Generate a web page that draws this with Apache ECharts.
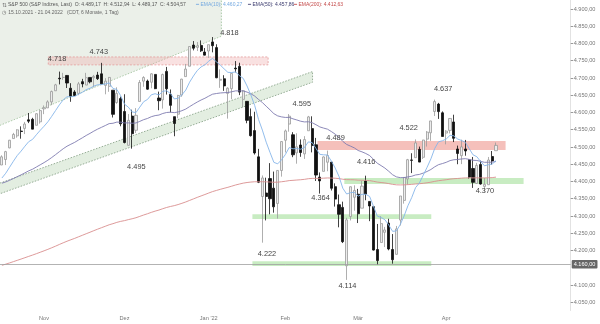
<!DOCTYPE html>
<html><head><meta charset="utf-8">
<script src="https://cdn.jsdelivr.net/npm/echarts@6/dist/echarts.min.js"></script>
<style>html,body{margin:0;padding:0;background:#fff;overflow:hidden}#c{width:600px;height:324px}</style>
</head><body><div id="c"></div>
<script>
const dates = ['2021-10-15','2021-10-18','2021-10-19','2021-10-20','2021-10-21','2021-10-22','2021-10-25','2021-10-26','2021-10-27','2021-10-28','2021-10-29',
'2021-11-01','2021-11-02','2021-11-03','2021-11-04','2021-11-05','2021-11-08','2021-11-09','2021-11-10','2021-11-11','2021-11-12','2021-11-15','2021-11-16','2021-11-17','2021-11-18','2021-11-19','2021-11-22','2021-11-23','2021-11-24','2021-11-26','2021-11-29','2021-11-30',
'2021-12-01','2021-12-02','2021-12-03','2021-12-06','2021-12-07','2021-12-08','2021-12-09','2021-12-10','2021-12-13','2021-12-14','2021-12-15','2021-12-16','2021-12-17','2021-12-20','2021-12-21','2021-12-22','2021-12-23','2021-12-27','2021-12-28','2021-12-29','2021-12-30','2021-12-31',
'2022-01-03','2022-01-04','2022-01-05','2022-01-06','2022-01-07','2022-01-10','2022-01-11','2022-01-12','2022-01-13','2022-01-14','2022-01-18','2022-01-19','2022-01-20','2022-01-21','2022-01-24','2022-01-25','2022-01-26','2022-01-27','2022-01-28','2022-01-31',
'2022-02-01','2022-02-02','2022-02-03','2022-02-04','2022-02-07','2022-02-08','2022-02-09','2022-02-10','2022-02-11','2022-02-14','2022-02-15','2022-02-16','2022-02-17','2022-02-18','2022-02-22','2022-02-23','2022-02-24','2022-02-25','2022-02-28',
'2022-03-01','2022-03-02','2022-03-03','2022-03-04','2022-03-07','2022-03-08','2022-03-09','2022-03-10','2022-03-11','2022-03-14','2022-03-15','2022-03-16','2022-03-17','2022-03-18','2022-03-21','2022-03-22','2022-03-23','2022-03-24','2022-03-25','2022-03-28','2022-03-29','2022-03-30','2022-03-31',
'2022-04-01','2022-04-04','2022-04-05','2022-04-06','2022-04-07','2022-04-08','2022-04-11','2022-04-12','2022-04-13','2022-04-14','2022-04-18','2022-04-19','2022-04-20','2022-04-21'];

const opens = [4447.7,4463.7,4497.3,4524.4,4532.2,4546.1,4553.7,4578.7,4580.2,4562.8,4572.9,
4610.6,4613.3,4630.7,4662.9,4699.3,4701.5,4707.3,4670.3,4659.4,4655.2,4689.3,4679.4,4701.5,4700.7,4708.4,4712.0,4678.5,4675.8,4664.6,4628.8,4640.2,
4602.8,4504.7,4589.5,4548.4,4631.9,4690.9,4691.0,4687.6,4710.3,4642.0,4636.5,4719.1,4652.5,4587.9,4595.0,4650.4,4704.0,4734.0,4795.5,4788.6,4794.2,4775.2,
4778.1,4804.5,4788.0,4693.4,4697.7,4655.3,4669.1,4728.6,4733.6,4638.0,4632.2,4588.0,4547.4,4471.4,4356.3,4366.6,4408.4,4380.6,4336.2,4431.8,
4519.6,4566.4,4535.4,4482.8,4505.8,4480.0,4547.0,4553.2,4506.3,4412.6,4429.3,4455.8,4456.1,4385.0,4332.7,4324.9,4155.8,4298.4,4354.2,
4363.1,4322.6,4401.3,4342.1,4327.0,4202.7,4223.1,4252.6,4279.5,4202.8,4188.8,4288.1,4345.1,4407.3,4462.4,4469.1,4493.1,4470.0,4522.7,4541.1,4602.9,4624.2,4599.0,
4540.3,4548.0,4572.5,4494.2,4474.7,4494.2,4462.6,4437.6,4394.3,4449.1,4385.6,4390.6,4472.3,4489.2];

const highs = [4475.8,4488.8,4520.4,4540.9,4551.4,4559.7,4572.6,4598.5,4584.6,4597.6,4608.1,
4620.3,4635.2,4663.5,4683.0,4718.5,4714.9,4708.5,4684.9,4664.6,4688.5,4697.4,4714.9,4701.5,4708.8,4717.8,4743.8,4699.4,4702.9,4664.6,4672.9,4646.0,
4652.9,4595.5,4608.0,4612.6,4694.0,4705.1,4695.3,4713.6,4710.3,4660.5,4712.6,4732.0,4666.7,4587.9,4651.1,4697.7,4740.7,4791.5,4807.0,4804.1,4808.9,4786.8,
4796.6,4818.6,4797.7,4725.0,4708.0,4673.0,4714.1,4749.0,4744.1,4665.1,4632.2,4611.6,4602.1,4494.5,4417.4,4411.0,4453.2,4428.7,4432.7,4516.9,
4550.5,4595.3,4542.9,4539.7,4521.9,4531.3,4590.0,4588.9,4526.3,4426.2,4472.8,4489.6,4456.1,4394.6,4362.1,4341.5,4294.7,4385.3,4388.8,
4378.5,4401.5,4416.8,4342.1,4327.0,4276.9,4299.4,4268.3,4291.9,4247.6,4271.1,4357.9,4412.7,4465.4,4481.8,4522.0,4501.1,4520.6,4546.0,4575.7,4637.3,4627.8,4603.1,
4548.7,4583.5,4593.5,4503.9,4521.2,4520.4,4464.3,4471.0,4453.9,4460.5,4410.3,4471.0,4488.3,4512.9];

const lows = [4447.7,4447.5,4496.4,4524.4,4526.9,4524.0,4537.4,4569.2,4551.7,4562.8,4567.6,
4595.1,4613.3,4621.2,4662.6,4681.3,4694.4,4670.9,4630.9,4648.3,4650.0,4672.9,4679.4,4684.4,4672.8,4694.2,4682.2,4652.7,4659.9,4585.4,4625.3,4560.0,
4510.3,4504.7,4495.1,4540.5,4631.9,4674.5,4665.9,4670.2,4667.6,4606.5,4611.2,4651.9,4600.2,4531.1,4583.2,4645.5,4704.0,4734.0,4780.0,4778.1,4775.3,4765.8,
4758.2,4774.3,4699.4,4671.3,4662.7,4582.2,4638.3,4716.1,4650.3,4614.8,4568.7,4530.2,4478.0,4395.3,4222.6,4287.1,4304.8,4309.5,4292.5,4414.0,
4484.0,4544.3,4470.4,4451.5,4471.5,4465.4,4547.0,4484.3,4401.4,4364.8,4429.3,4429.7,4373.8,4327.2,4267.1,4221.5,4114.7,4287.0,4315.1,
4279.5,4322.6,4345.6,4285.0,4199.9,4157.9,4223.1,4209.8,4200.5,4161.7,4187.9,4272.3,4335.7,4390.6,4424.3,4469.1,4455.8,4465.2,4501.1,4517.7,4589.7,4581.3,4530.4,
4507.6,4539.2,4514.2,4450.0,4450.3,4474.6,4408.4,4381.3,4392.7,4390.8,4370.3,4390.6,4448.8,4489.2];

const closes = [4471.4,4486.5,4519.6,4536.2,4549.8,4544.9,4566.5,4574.8,4551.7,4596.4,4605.4,
4613.7,4630.7,4660.6,4680.1,4697.5,4701.7,4685.3,4646.7,4649.3,4682.9,4682.8,4700.9,4688.7,4704.5,4698.0,4682.9,4690.7,4701.5,4594.6,4655.3,4567.0,
4513.0,4577.1,4538.4,4591.7,4686.8,4701.2,4667.5,4712.0,4669.0,4634.1,4709.9,4668.7,4620.6,4568.0,4649.2,4696.6,4725.8,4791.2,4786.4,4793.1,4778.7,4766.2,
4796.6,4793.5,4700.6,4696.1,4677.0,4670.3,4713.1,4726.4,4659.0,4662.9,4577.1,4532.8,4482.7,4397.9,4410.1,4356.5,4349.9,4326.5,4431.9,4515.6,
4546.5,4589.4,4477.4,4500.5,4483.9,4521.5,4587.2,4504.1,4418.6,4401.7,4471.1,4475.0,4380.3,4348.9,4304.8,4225.5,4288.7,4384.7,4373.9,
4306.3,4386.5,4363.5,4328.9,4201.1,4170.7,4277.9,4259.5,4204.3,4173.1,4262.5,4357.9,4411.7,4463.1,4461.2,4511.6,4456.2,4520.2,4543.1,4575.5,4631.6,4602.5,4530.4,
4545.9,4582.6,4525.1,4481.2,4500.2,4488.3,4412.5,4397.5,4446.6,4392.6,4391.7,4462.2,4459.5,4504.6];

const ema10 = [4410.0,4423.9,4441.3,4458.6,4475.2,4487.9,4502.2,4515.4,4522.0,4535.5,
4548.2,4560.1,4572.9,4588.8,4605.4,4622.1,4636.6,4645.5,4645.7,4646.4,
4653.0,4658.4,4666.1,4670.2,4676.4,4680.3,4680.8,4682.6,4686.0,4669.4,
4666.8,4648.7,4624.0,4615.5,4601.5,4599.7,4615.5,4631.1,4637.7,4651.2,
4654.4,4650.7,4661.5,4662.8,4655.1,4639.3,4641.1,4651.2,4664.8,4687.8,
4705.7,4721.6,4732.0,4738.2,4748.8,4756.9,4746.7,4737.5,4726.5,4716.3,
4715.7,4717.6,4706.9,4698.9,4676.8,4650.6,4620.1,4579.7,4548.9,4513.9,
4484.1,4455.4,4451.1,4462.8,4478.0,4498.3,4494.5,4495.6,4493.5,4498.6,
4514.7,4512.8,4495.7,4478.6,4477.2,4476.8,4459.3,4439.2,4414.8,4380.4,
4363.7,4367.5,4368.7,4357.4,4362.7,4362.8,4356.6,4328.3,4299.6,4295.7,
4289.1,4273.7,4255.4,4256.7,4275.1,4299.9,4329.6,4353.5,4382.2,4395.7,
4418.3,4441.0,4465.5,4495.7,4515.1,4517.9,4523.0,4533.8,4532.2,4522.9,
4518.8,4513.3,4495.0,4477.3,4471.7,4457.3,4445.4,4448.5,4450.5,4460.3];

const ema50 = [4395.0,4398.6,4403.3,4408.5,4414.0,4419.2,4424.9,4430.8,4435.5,4441.9,
4448.3,4454.7,4461.6,4469.4,4477.7,4486.3,4494.8,4502.2,4507.9,4513.4,
4520.1,4526.5,4533.3,4539.4,4545.9,4551.8,4557.0,4562.2,4567.7,4568.7,
4572.1,4571.9,4569.6,4569.9,4568.7,4569.6,4574.2,4579.1,4582.6,4587.7,
4590.9,4592.5,4597.1,4599.9,4600.8,4599.5,4601.4,4605.2,4609.9,4617.0,
4623.7,4630.3,4636.1,4641.2,4647.3,4653.0,4654.9,4656.5,4657.3,4657.8,
4660.0,4662.6,4662.5,4662.5,4659.1,4654.2,4647.5,4637.7,4628.8,4618.1,
4607.6,4596.6,4590.1,4587.2,4585.6,4585.8,4581.5,4578.3,4574.6,4572.6,
4573.1,4570.4,4564.5,4558.1,4554.7,4551.6,4544.8,4537.2,4528.0,4516.2,
4507.3,4502.5,4497.4,4489.9,4485.9,4481.1,4475.1,4464.4,4452.9,4446.0,
4438.7,4429.5,4419.5,4413.3,4411.1,4411.2,4413.2,4415.1,4418.9,4420.4,
4424.3,4428.9,4434.7,4442.4,4448.7,4451.9,4455.5,4460.5,4463.0,4463.7,
4465.2,4466.1,4464.0,4461.4,4460.8,4458.1,4455.5,4455.8,4455.9,4457.9];

const ema200 = [4157.0,4160.3,4163.9,4167.6,4171.4,4175.1,4179.0,4182.9,4186.6,4190.7,
4194.8,4199.0,4203.3,4207.8,4212.5,4217.4,4222.2,4226.8,4231.0,4235.1,
4239.6,4244.0,4248.5,4252.9,4257.4,4261.8,4266.0,4270.2,4274.5,4277.7,
4281.4,4284.3,4286.5,4289.4,4291.9,4294.9,4298.8,4302.8,4306.4,4310.4,
4314.0,4317.2,4321.1,4324.6,4327.5,4329.9,4333.1,4336.7,4340.6,4345.1,
4349.5,4353.9,4358.1,4362.2,4366.5,4370.7,4374.0,4377.2,4380.2,4383.1,
4386.4,4389.8,4392.5,4395.2,4397.0,4398.3,4399.2,4399.2,4399.3,4398.9,
4398.4,4397.7,4398.0,4399.2,4400.6,4402.5,4403.3,4404.2,4405.0,4406.2,
4408.0,4408.9,4409.0,4409.0,4409.6,4410.2,4409.9,4409.3,4408.3,4406.5,
4405.3,4405.1,4404.8,4403.8,4403.7,4403.3,4402.5,4400.5,4398.2,4397.0,
4395.7,4393.8,4391.6,4390.3,4390.0,4390.2,4390.9,4391.6,4392.8,4393.5,
4394.7,4396.2,4398.0,4400.3,4402.3,4403.6,4405.0,4406.8,4408.0,4408.7,
4409.6,4410.4,4410.4,4410.3,4410.6,4410.4,4410.2,4410.8,4411.2,4412.6];

const yTicks = [4050,4100,4200,4250,4300,4350,4400,4450,4500,4550,4600,4650,4700,4750,4800,4850,4900];
const monthTicks = {'2021-11-01':'Nov','2021-12-01':'Dez','2022-01-03':"Jan '22",'2022-02-01':'Feb','2022-03-01':'Mär','2022-04-01':'Apr'};
const emptySlots = 19;

// annotation geometry in data space: [index, value]
const upperChannelLine = [[-2, 4556], [57.3, 4821]];
const lowerChannelTop = [[-2, 4389.5], [81.1, 4718.6]];
const lowerChannelBottom = [[-2, 4358.5], [81.1, 4687.6]];
// horizontal zones: [fromIndex, toIndex, low, high]
const zoneResistTop = [12.1, 69.5, 4738, 4761];
const zoneResistMid = [82.4, 131.5, 4491, 4517];
const zoneSupportA = [89.4, 136.2, 4393, 4410];
const zoneSupportB = [65.4, 112.1, 4291, 4305];
const zoneSupportC = [65.4, 112.1, 4155, 4169];
const hLineValue = 4160;
const hLineLabel = '4.160,00';
const levelLabels = [['4.718',14.4,4755],['4.743',25.3,4775],['4.818',59.4,4830],['4.495',35.1,4442],
 ['4.595',78.3,4625],['4.489',87.1,4526],['4.522',106.2,4555],['4.637',115.2,4668],['4.416',95.1,4456],
 ['4.364',83.2,4352],['4.370',126.1,4372],['4.222',69.2,4190],['4.114',90.2,4097]];

const FONT = 'Liberation Sans, Arial, sans-serif';
const cats = dates.concat(Array.from({length: emptySlots}, (_, k) => ' '.repeat(k + 1)));
const candles = dates.map((d, i) => [opens[i], closes[i], lows[i], highs[i]]);
const deFmt = v => { const s = v.toFixed(2).split('.'); return s[0].replace(/\B(?=(\d{3})+(?!\d))/g, '.') + ',' + s[1]; };
// coordinate for a fractional category position, through the axis scale
const coordF = (api, pt) => {
  const i0 = Math.floor(pt[0]), f = pt[0] - i0;
  const a = api.coord([i0, pt[1]]), b = api.coord([i0 + 1, pt[1]]);
  return [a[0] + (b[0] - a[0]) * f, a[1]];
};

const zones = [zoneResistTop, zoneResistMid, zoneSupportA, zoneSupportB, zoneSupportC];
const zoneStyles = [
  {fill:'rgba(238,170,170,0.35)', stroke:'#e59a9a', lineWidth:0.8, lineDash:[2,1.5]},
  {fill:'#f5c0bb'},
  {fill:'#c8ecc2'},
  {fill:'#c8ecc2'},
  {fill:'#c8ecc2'}
];

const chart = echarts.init(document.getElementById('c'), null, {renderer:'canvas'});
chart.setOption({
  animation: false,
  backgroundColor: '#fff',
  grid: {left: -5.9, top: 0, width: 576.6, height: 310.5},
  xAxis: {
    type: 'category', data: cats, boundaryGap: true,
    axisLine: {show: false}, axisTick: {show: false}, splitLine: {show: false},
    axisLabel: {interval: (i, v) => v in monthTicks, formatter: v => monthTicks[v] || '',
      fontSize: 5.6, color: '#777', fontFamily: FONT, margin: 5}
  },
  yAxis: {
    type: 'value', position: 'right', min: 4026, max: 4926, scale: true,
    splitLine: {show: false},
    axisLine: {show: true, lineStyle: {color: '#e2e2e2'}},
    axisTick: {show: true, length: 2.5, lineStyle: {color: '#999'}, customValues: yTicks},
    axisLabel: {customValues: yTicks, formatter: deFmt, fontSize: 5.6, color: '#777', fontFamily: FONT, margin: 3}
  },
  graphic: [
    {type:'text', z: 100, left: 1.5, top: 2, style:{text:'⇅', fontSize:5.5, fill:'#777', fontFamily: FONT}},
    {type:'text', z: 100, left: 8, top: 2.5, style:{text:'S&P 500 (S&P Indizes, Last)  O: 4.489,17  H: 4.512,94  L: 4.489,17  C: 4.504,57', fontSize:5, fill:'#555', fontFamily: FONT}},
    {type:'text', z: 100, left: 196, top: 2.5, style:{text:'━ EMA(10): 4.460,27', fontSize:5, fill:'#74a9e0', fontFamily: FONT}},
    {type:'text', z: 100, left: 248, top: 2.5, style:{text:'━ EMA(50): 4.457,86', fontSize:5, fill:'#3b3b6e', fontFamily: FONT}},
    {type:'text', z: 100, left: 294, top: 2.5, style:{text:'━ EMA(200): 4.412,63', fontSize:5, fill:'#c44a4a', fontFamily: FONT}},
    {type:'text', z: 100, left: 1.5, top: 10.5, style:{text:'◷  15.10.2021 - 21.04.2022   (CDT, 6 Monate, 1 Tag)', fontSize:5, fill:'#666', fontFamily: FONT}}
  ],
  series: [
    {
      type: 'custom', z: 1, silent: true,
      data: [[0, upperChannelLine[0][1]]],
      renderItem: (p, api) => {
        const a = coordF(api, upperChannelLine[0]), b = coordF(api, upperChannelLine[1]);
        return {type:'polygon', shape:{points:[a, b, [b[0], -60], [a[0], -60]]},
          style:{fill:'#ebf0e9', stroke:'#9cbf98', lineWidth:0.8, lineDash:[1.5,1.5]}};
      }
    },
    {
      type: 'custom', z: 1, silent: true,
      data: [[0, lowerChannelTop[0][1]]],
      renderItem: (p, api) => {
        const a = coordF(api, lowerChannelTop[0]), b = coordF(api, lowerChannelTop[1]);
        const c = coordF(api, lowerChannelBottom[1]), d = coordF(api, lowerChannelBottom[0]);
        return {type:'polygon', shape:{points:[a, b, c, d]},
          style:{fill:'#e3eee1', stroke:'#7f9a7f', lineWidth:0.8, lineDash:[1.5,1.5]}};
      }
    },
    {
      type: 'custom', z: 1, silent: true,
      data: zones.map(zn => [Math.round(zn[0]), zn[2]]),
      renderItem: (p, api) => {
        const zn = zones[p.dataIndex];
        const a = coordF(api, [zn[0], zn[3]]), b = coordF(api, [zn[1], zn[2]]);
        return {type:'rect', shape:{x:a[0], y:a[1], width:b[0]-a[0], height:b[1]-a[1]}, style: zoneStyles[p.dataIndex]};
      }
    },
    {
      type: 'candlestick', z: 3, data: candles, barWidth: 2.6,
      itemStyle: {color:'#ececec', color0:'#111', borderColor:'#9a9a9a', borderColor0:'#111', borderWidth: 0.8},
      markLine: {
        silent: true, symbol: 'none', animation: false,
        lineStyle: {color:'#a0a0a0', width: 0.8, type:'solid'},
        label: {position:'end', formatter: hLineLabel, backgroundColor:'#666', color:'#fff', fontSize:5.6, fontFamily: FONT, padding:[1.5,2,1,2], borderRadius:1, distance:1},
        data: [{yAxis: hLineValue}]
      }
    },
    {type:'line', z: 4, data: ema200, symbol:'none', lineStyle:{color:'#d98f8f', width:0.9}, silent:true},
    {type:'line', z: 4, data: ema50, symbol:'none', lineStyle:{color:'#7f7cb0', width:0.9}, silent:true},
    {type:'line', z: 4, data: ema10, symbol:'none', lineStyle:{color:'#86b6ea', width:0.9}, silent:true},
    {
      type: 'custom', z: 6, silent: true,
      data: levelLabels.map(l => [Math.round(l[1]), l[2]]),
      renderItem: (p, api) => {
        const l = levelLabels[p.dataIndex];
        const pt = coordF(api, [l[1], l[2]]);
        return {type:'text', x: pt[0], y: pt[1], style:{text: l[0], fill:'#444', font: '7.4px ' + FONT, align:'center', verticalAlign:'middle'}};
      }
    }
  ]
});
</script>
</body></html>
